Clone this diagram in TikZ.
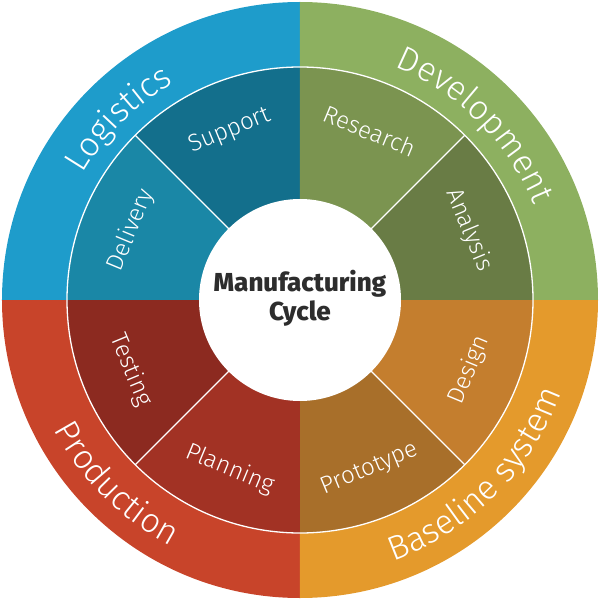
\documentclass[tikz,border=0pt]{standalone}
\usepackage{fontspec}
\setmainfont{Fira Sans}
\newfontfamily\lightfont{Fira Sans Light}
\newfontfamily\heavyfont{Fira Sans ExtraBold}
\usetikzlibrary{decorations.text}
\definecolor{logout}{HTML}{1E9CCB}
\definecolor{support}{HTML}{136F8C}
\definecolor{delivery}{HTML}{1A87A6}
\definecolor{devout}{HTML}{8DB060}
\definecolor{research}{HTML}{7B9450}
\definecolor{analysis}{HTML}{697C45}
\definecolor{prodout}{HTML}{C8442A}
\definecolor{testing}{HTML}{8C2A20}
\definecolor{planning}{HTML}{A23224}
\definecolor{baseout}{HTML}{E49A2C}
\definecolor{design}{HTML}{C47E2E}
\definecolor{prototype}{HTML}{A86F2A}
\definecolor{centertext}{HTML}{2D2D2D}
\newcommand{\outerfont}{\lightfont\fontsize{34}{34}\selectfont}
\tikzset{
  inlbl/.style={text=white, font=\lightfont\fontsize{24}{24}\selectfont, inner sep=0pt},
  topring/.style={decorate, decoration={text along path, text align=center, text color=white, text={|\outerfont|#1}}},
  botring/.style={decorate, decoration={text along path, text align=center, text color=white, text={|\outerfont|#1}}},
  divider/.style={draw=white, line width=1.3pt}
}
\begin{document}
\begin{tikzpicture}[x=1pt,y=1pt]
\useasboundingbox (-300,-300) rectangle (300,300);
% outer quadrants
\fill[logout] (0,0) -- (90:298) arc[start angle=90,end angle=180,radius=298] -- cycle;
\fill[devout] (0,0) -- (0:298) arc[start angle=0,end angle=90,radius=298] -- cycle;
\fill[prodout] (0,0) -- (180:298) arc[start angle=180,end angle=270,radius=298] -- cycle;
\fill[baseout] (0,0) -- (270:298) arc[start angle=270,end angle=360,radius=298] -- cycle;
% inner sectors
\fill[support] (0,0) -- (90:233) arc[start angle=90,end angle=135,radius=233] -- cycle;
\fill[delivery] (0,0) -- (135:233) arc[start angle=135,end angle=180,radius=233] -- cycle;
\fill[research] (0,0) -- (45:233) arc[start angle=45,end angle=90,radius=233] -- cycle;
\fill[analysis] (0,0) -- (0:233) arc[start angle=0,end angle=45,radius=233] -- cycle;
\fill[design] (0,0) -- (-45:233) arc[start angle=-45,end angle=0,radius=233] -- cycle;
\fill[prototype] (0,0) -- (-90:233) arc[start angle=-90,end angle=-45,radius=233] -- cycle;
\fill[planning] (0,0) -- (-135:233) arc[start angle=-135,end angle=-90,radius=233] -- cycle;
\fill[testing] (0,0) -- (-180:233) arc[start angle=-180,end angle=-135,radius=233] -- cycle;
% dividers
\draw[divider] (0,0) circle[radius=233];
\foreach \a in {45,135,225,315} \draw[divider] (\a:100) -- (\a:233);
\fill[white] (0,0) circle[radius=101];
% outer curved labels
\path[topring=Logistics] (180:251) arc[start angle=180,end angle=90,radius=251];
\path[topring=Development] (90:252) arc[start angle=90,end angle=0,radius=252];
\path[botring=Production] (180:278) arc[start angle=180,end angle=270,radius=278];
\path[botring=Baseline system] (270:277) arc[start angle=270,end angle=360,radius=277];
% inner labels
\node[inlbl, rotate=22.5] (support) at (112.5:183) {Support};
\node[inlbl, rotate=67.5] (delivery) at (157.5:183) {Delivery};
\node[inlbl, rotate=-22.5] (research) at (67.5:183) {Research};
\node[inlbl, rotate=-67.5] (analysis) at (22.5:183) {Analysis};
\node[inlbl, rotate=67.5] (design) at (-22.5:183) {Design};
\node[inlbl, rotate=22.5] (prototype) at (-67.5:183) {Prototype};
\node[inlbl, rotate=-22.5] (planning) at (-112.5:183) {Planning};
\node[inlbl, rotate=-67.5] (testing) at (-157.5:183) {Testing};
% center
\node[text=centertext, font=\heavyfont\fontsize{26}{29}\selectfont, align=center] (center) at (0,2) {Manufacturing\\Cycle};
\end{tikzpicture}
\end{document}
